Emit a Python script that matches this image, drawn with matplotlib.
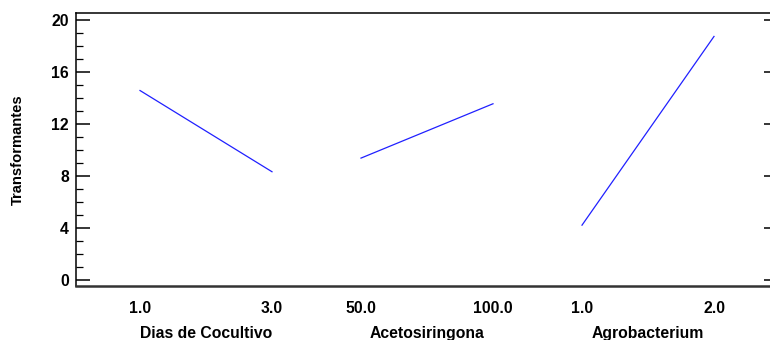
import matplotlib
matplotlib.use("Agg")
import matplotlib.pyplot as plt
import numpy as np

# Factores y niveles (main effects plot)
factores = ['Dias de Cocultivo', 'Acetosiringona', 'Agrobacterium']
niveles = [['1.0', '3.0'], ['50.0', '100.0'], ['1.0', '2.0']]
medias = [[14.56, 8.31], [9.36, 13.54], [4.20, 18.72]]

plt.rcParams['font.family'] = ['Liberation Sans', 'DejaVu Sans']
plt.rcParams['font.weight'] = 'bold'

fig = plt.figure(figsize=(7.7, 3.4), dpi=100)
ax = fig.add_axes([76 / 770, 1 - 286 / 340, 702 / 770, 272.7 / 340])

paso = 221 / 132  # distancia entre grupos, en unidades de nivel
xticks, xlabels = [], []
for g, (fac, niv, med) in enumerate(zip(factores, niveles, medias)):
    xs = g * paso + np.arange(len(niv))
    ax.plot(xs, med, color='#2020ff', lw=0.9)
    xticks += list(xs)
    xlabels += niv
    ax.text(xs.mean(), -0.176, fac, transform=ax.get_xaxis_transform(),
            ha='center', va='center', fontsize=11.3, fontweight='bold')

ax.set_xlim(-64 / 132, 638 / 132)
ax.set_ylim(-0.48, 20.5)
ax.set_xticks(xticks)
ax.set_xticklabels(xlabels, fontsize=11.3, fontweight='bold')
ax.set_yticks(np.arange(0, 21, 4))
ax.set_yticks(np.arange(0, 21, 1), minor=True)
ax.tick_params(axis='y', labelsize=11.3, pad=5)

ax.tick_params(axis='x', length=0, pad=11)
ax.tick_params(axis='y', which='major', direction='in', length=10, width=1.1, right=True)
ax.tick_params(axis='y', which='minor', direction='in', length=5, width=0.9, right=False)

ax.spines['right'].set_visible(False)
ax.spines['bottom'].set_linewidth(1.8)
ax.spines['bottom'].set_color('#333333')
ax.spines['left'].set_linewidth(1.1)
ax.spines['top'].set_linewidth(1.1)

ax.set_ylabel('Transformantes', fontsize=10.6, fontweight='bold')
ax.yaxis.set_label_coords(-0.0727, 0.5)

fig.savefig('out.png', dpi=100)
